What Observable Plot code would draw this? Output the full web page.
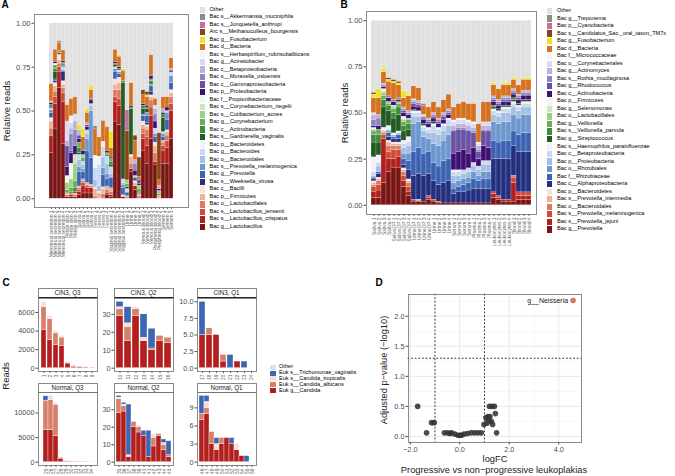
<!DOCTYPE html>
<html><head><meta charset="utf-8">
<script src="https://cdn.jsdelivr.net/npm/d3@7"></script>
<script src="https://cdn.jsdelivr.net/npm/@observablehq/plot@0.6"></script>
<style>
body{margin:0;background:#fff;}
#fig{position:relative;width:675px;height:476px;overflow:hidden;font-family:"Liberation Sans",Arial,sans-serif;background:#fff;}
</style></head>
<body><div id="fig"></div>
<script>
// ---------- shared palette (bottom -> top of stack) ----------
const palette = ["#7a1515","#b21f1f","#cf4b38","#dc7b60","#ebb29b","#f8e2d8","#24307f","#3c63b1","#6f97cf","#a3bfe2","#cad9ef","#eef2fa","#245a24","#3f8b3b","#6aae56","#9fce86","#cde6bf","#eff7e9","#3f0f72","#6a51a3","#8e85c0","#b8b3d9","#dcdaee","#f4f3fa","#d5711f","#efe41c","#8b4513","#cc6aa0","#8c8c8c"];
const otherColor = "#e0e0e0";

// ---------- Panel A ----------
const samplesA = ["Menstrual secretion 1","Menstrual secretion 2","Menstrual secretion 3","Menstrual secretion 4","Penile skin 1","Penile skin 2","Penile skin 3","Saliva 1","Saliva 2","Saliva 3","Saliva 4","Feces 1","Feces 2","Feces 3","Feces 4","Vaginal secretion 1","Vaginal secretion 2","Vaginal secretion 3","Vaginal secretion 4","Urine 1","Urine 2","Urine 3","Urine 4","Venous blood 1","Venous blood 2","Venous blood 3","Peripheral blood 1","Peripheral blood 2","Semen 1","Semen 2","Semen 3"];
const taxaA = ["Bac g__Lactobacillus","Bac s__Lactobacillus_crispatus","Bac s__Lactobacillus_jensenii","Bac o__Lactobacillales","Bac p__Firmicutes","Bac c__Bacilli","Bac s__Weeksella_virosa","Bac g__Prevotella","Bac s__Prevotella_melaninogenica","Bac o__Bacteroidales","Bac g__Bacteroides","Bac p__Bacteroidetes","Bac s__Gardnerella_vaginalis","Bac c__Actinobacteria","Bac g__Corynebacterium","Bac s__Cutibacterium_acnes","Bac s__Corynebacterium_riegelii","Bac f__Propionibacteriaceae","Bac p__Proteobacteria","Bac c__Gammaproteobacteria","Bac s__Moraxella_osloensis","Bac c__Betaproteobacteria","Bac g__Acinetobacter","Bac s__Herbaspirillum_rubrisubalbicans","Bac d__Bacteria","Bac g__Fusobacterium","Arc s__Methanoculleus_bourgensis","Bac s__Jonquetella_anthropi","Bac s__Akkermansia_muciniphila"];
const A_Lg = [.26,.40,.63,.31,.01,.01,.01,.02,.03,.03,.03,.005,0,.005,.02,.01,.44,.42,.01,.005,.15,.05,.005,.27,.20,.34,.19,0,.20,.20,.34];
const A_Lc = [.095,.14,.09,.24,0,.01,0,.02,.04,.03,.03,0,0,0,.01,.01,.11,.11,0,0,.02,.02,0,.07,.10,.13,.02,0,.07,.09,.16];
const A_Lj = [0,.04,.03,.05,0,0,0,.01,.02,.01,0,0,0,0,0,0,.03,.04,0,0,0,0,0,.03,.05,.05,0,0,.03,.04,.04];
const A_Lo = [.045,.03,.02,.03,.01,.01,.01,.01,.01,.01,.01,.01,0,.02,.02,.02,.04,.05,0,0,.03,0,.01,.03,.04,.04,.05,.005,.02,.03,.04];
const A_Fi = [.04,.03,.02,.02,.01,0,.01,.01,.01,.01,.01,.04,.03,.03,.02,.02,.03,.04,0,.01,.04,.02,.01,.02,.02,.02,.04,.01,.01,.02,.02];
const A_Ba = [.02,.02,.03,.02,0,0,0,0,0,0,0,.01,.01,.01,0,0,.03,.03,.01,0,.01,.01,0,.02,.01,.01,.02,0,0,.01,.02];
const A_We = [0,.01,0,.05,0,0,0,0,0,0,0,0,0,0,0,0,0,0,0,0,0,0,0,0,.01,.02,0,0,0,0,0];
const A_Pr = [.03,.01,.01,.01,0,0,0,.08,.04,.18,.15,0,0,.07,.04,.06,.04,.02,.04,.02,0,.02,0,.03,.04,.03,.03,0,.02,.06,.04];
const A_Pm = [.015,0,0,0,0,0,0,.03,.02,.07,.27,0,0,.04,.03,0,.02,.01,.02,0,0,0,0,.01,.02,.01,.02,0,.02,.04,.04];
const A_Bo = [0,0,0,0,0,0,0,.04,.02,.03,.03,.04,.03,.06,.06,.02,0,0,.01,0,0,0,0,0,0,0,0,0,0,0,0];
const A_Bg = [.01,0,0,.02,0,0,0,.03,.02,.02,.01,.07,.12,.06,.04,.04,.01,.01,.02,.02,0,.01,0,0,0,0,.03,0,.01,.01,.02];
const A_Bp = [0,0,0,0,0,0,0,0,0,0,0,.04,.04,.02,0,0,0,0,0,0,0,0,0,0,0,0,0,0,0,0,0];
const A_Ga = [.01,.04,0,.005,0,0,.01,.01,0,0,0,0,0,0,0,.01,.01,0,.55,.01,.26,0,0,.03,.02,0,0,0,.08,0,0];
const A_Ac = [.01,.02,0,.01,0,.01,.02,.03,0,0,0,0,0,0,.01,.02,.01,.01,.01,0,.01,0,.01,.02,.01,.02,0,0,.02,0,0];
const A_Co = [0,.02,.01,.01,.02,.02,.04,.03,.02,0,0,0,0,0,.01,.02,0,0,0,.02,0,0,.02,0,0,.01,0,.01,0,0,0];
const A_Cu = [0,0,0,0,.04,.05,.10,0,.02,0,0,0,0,0,0,0,0,0,0,.02,0,0,.02,0,0,0,0,.02,0,0,0];
const A_Cr = [0,0,0,0,0,0,.05,0,0,0,0,0,0,0,0,0,0,0,0,0,0,0,0,0,0,0,0,0,0,0,0];
const A_Pf = [0,.01,0,0,.04,.09,0,0,0,0,0,0,0,0,0,0,0,0,0,0,0,0,0,0,0,0,0,0,0,0,0];
const A_Pp = [.01,.01,0,.01,.05,.06,.05,.02,.02,.02,.02,0,0,0,.01,.01,.01,.01,0,0,.01,.03,.01,.01,.01,.02,.04,.01,.01,.02,.01];
const A_Gm = [0,0,0,0,.12,.01,0,.02,.01,.01,.01,0,0,0,0,0,0,0,0,0,0,0,.02,0,0,0,0,0,0,0,0];
const A_Mo = [0,0,0,0,0,.10,.09,0,0,0,0,0,0,0,0,0,0,0,0,0,0,.04,0,0,0,0,.04,0,0,0,0];
const A_Be = [.01,0,0,0,.03,.03,.05,.03,0,.01,0,0,0,0,0,0,0,0,0,0,0,.02,0,0,0,0,.03,.02,.02,0,.01];
const A_Ai = [0,0,0,0,.11,.03,.04,0,0,0,0,0,0,0,0,0,0,0,0,0,0,0,0,0,0,0,.02,0,0,0,0];
const A_He = [0,0,0,0,0,.04,0,0,0,0,0,.03,.01,.01,0,0,0,0,0,0,0,0,0,0,0,0,0,0,0,0,0];
const A_Bd = [.10,.07,.05,.06,.095,.10,.10,0,.07,.06,.05,.15,.11,.12,.14,.05,.07,.06,.06,0,.13,.11,.02,.05,.05,.12,.04,.03,.07,.06,.06];
const A_Fu = [0,0,0,0,0,0,0,.03,.045,.02,.025,0,0,0,0,.09,0,.01,.01,0,0,0,0,0,.01,0,0,0,0,0,0];
const A_Me = [0,0,0,0,0,0,0,0,0,0,0,0,0,0,0,0,0,0,0,.28,0,.03,.11,.03,.02,0,0,.27,0,0,0];
const A_Jo = [0,0,0,0,0,0,0,0,0,0,0,0,0,0,0,0,0,0,0,.12,0,0,0,0,0,0,0,0,0,0,0];
const A_Ak = [0,0,.01,0,0,0,0,0,0,0,0,.02,0,0,0,0,0,0,0,0,0,0,0,0,0,0,0,0,0,0,0];
const seriesA = [A_Lg,A_Lc,A_Lj,A_Lo,A_Fi,A_Ba,A_We,A_Pr,A_Pm,A_Bo,A_Bg,A_Bp,A_Ga,A_Ac,A_Co,A_Cu,A_Cr,A_Pf,A_Pp,A_Gm,A_Mo,A_Be,A_Ai,A_He,A_Bd,A_Fu,A_Me,A_Jo,A_Ak];

// ---------- Panel B ----------
const samplesB = ["Saliva 1","Saliva 2","Saliva 3","Saliva 4","SalivaDP 1","SalivaDP 2","SalivaDP 3","SalivaDP 4","UrineDP 1","UrineDP 2","UrineDP 3","UrineDP 4","Urine 1","Urine 2","Urine 3","Urine 4","Serum 1","Serum 2","Serum 3","Serum 4","Plasma 1","Plasma 2","Plasma 3","Plasma 4","Leukocytes 1","Leukocytes 2","Leukocytes 3","Leukocytes 4","Blood 1","Blood 2","Blood 3","Blood 4"];
const taxaB = ["Bac g__Prevotella","Bac s__Prevotella_jejuni","Bac s__Prevotella_melaninogenica","Bac o__Bacteroidales","Bac s__Prevotella_intermedia","Bac p__Bacteroidetes","Bac c__Alphaproteobacteria","Bac f__Rhizobiaceae","Bac o__Rhizobiales","Bac p__Proteobacteria","Bac c__Betaproteobacteria","Bac s__Haemophilus_parainfluenzae","Bac g__Streptococcus","Bac s__Veillonella_parvula","Bac g__Veillonella","Bac o__Lactobacillales","Bac g__Selenomonas","Bac p__Firmicutes","Bac c__Actinobacteria","Bac g__Rhodococcus","Bac s__Rothia_mucilaginosa","Bac g__Actinomyces","Bac o__Corynebacteriales","Bac f__Micrococcaceae","Bac d__Bacteria","Bac g__Fusobacterium","Bac s__Candidatus_Sac._oral_taxon_TM7x","Bac p__Cyanobacteria","Bac g__Treponema"];
const B_Pg = [.04,.04,.12,.18,.20,.20,.10,.05,.02,.02,.02,.03,.02,.01,.01,.01,.01,.01,.01,.01,.01,.01,.01,.01,.04,.03,.02,.02,.02,.03,.03,.03];
const B_Pj = [.03,.04,.24,.07,.05,.06,.03,.02,0,0,0,.01,0,0,0,0,0,0,0,0,0,0,0,0,.02,.01,.01,.01,.10,.02,.02,.02];
const B_Pm = [.03,.03,.02,.04,.05,.04,.03,.03,.01,.005,0,.01,.01,.01,0,0,0,0,0,0,0,0,0,0,.01,.01,0,0,.03,.02,.02,.02];
const B_Bo = [.01,.02,.01,.03,.02,.02,.02,.02,0,0,0,0,0,0,0,0,0,0,0,0,0,0,0,0,0,0,0,0,.01,0,0,0];
const B_Pi = [.01,.01,.01,.02,.01,.01,.01,.01,0,0,0,0,0,0,0,0,0,0,0,0,0,0,0,0,0,0,0,0,0,0,0,0];
const B_Bp = [.01,.01,.01,.01,.01,.01,.01,.01,0,.005,0,0,0,0,0,0,0,0,0,0,0,0,0,0,0,0,0,0,0,0,0,0];
const B_Al = [.01,.02,0,.02,.02,.02,.02,.05,.13,.14,.14,.12,.10,.09,.11,.12,.05,.06,.06,.07,.08,.08,.08,.08,.18,.20,.22,.22,.16,.22,.22,.22];
const B_Rf = [.01,.01,0,.02,.01,.02,.03,.05,.13,.14,.12,.12,.10,.10,.12,.12,.03,.03,.04,.04,.05,.04,.05,.05,.10,.09,.10,.10,.08,.09,.10,.10];
const B_Ro = [0,0,0,.01,0,0,.03,.04,.15,.14,.09,.07,.10,.11,.11,.13,.03,.03,.03,.03,.04,.03,.04,.04,.10,.10,.10,.10,.09,.09,.10,.10];
const B_Pp = [.01,.03,0,.01,.01,.01,.03,.04,.04,.03,.03,.03,.06,.06,.05,.05,.04,.03,.03,.03,.03,.03,.04,.04,.04,.04,.05,.05,.04,.04,.04,.04];
const B_Be = [.02,.02,0,0,0,0,.02,.02,.02,.02,.02,.02,.04,.03,.03,.03,.02,.02,.02,.02,.02,.02,.02,.02,.02,.02,.02,.02,.02,.02,.02,.02];
const B_Ha = [.08,.04,.01,.02,.01,.01,.02,.03,.01,.01,.01,.01,.01,.01,.01,.01,.01,.01,0,0,0,0,0,0,.01,.01,.01,.01,.01,.01,.01,.01];
const B_St = [.08,.07,.11,.08,.08,.09,.05,.04,.005,0,.01,0,.01,0,0,0,0,0,0,0,0,0,0,0,.01,.01,.01,.01,.01,.01,.01,.01];
const B_Vp = [.04,.04,.04,.03,.03,.04,.03,.03,0,0,0,0,0,0,0,0,0,0,0,0,0,0,0,0,.01,0,0,0,.01,0,0,0];
const B_Ve = [.02,.03,.02,.01,.02,.02,.02,.02,0,0,0,0,0,0,0,0,0,0,0,0,0,0,0,0,0,0,0,0,0,0,0,0];
const B_Lo = [.01,0,.02,.01,.01,.01,.01,.01,0,0,0,0,0,0,0,0,0,0,0,0,0,0,0,0,0,0,0,0,0,0,0,0];
const B_Se = [0,0,.01,0,.01,0,.01,0,0,0,0,0,0,0,0,0,0,0,0,0,0,0,0,0,0,0,0,0,0,0,0,0];
const B_Fi = [.01,0,.01,0,0,0,.01,0,0,0,0,0,0,0,0,0,0,0,0,0,0,0,0,0,0,0,0,0,0,0,0,0];
const B_Ac = [.01,.02,.01,.02,.02,.01,.02,.02,.02,.02,.02,.02,.02,.02,.02,.02,.09,.10,.11,.08,.08,.04,.08,.07,.02,.02,.02,.02,.02,.02,.02,.02];
const B_Rh = [0,0,0,0,0,0,.01,0,.015,.015,.01,.01,.01,.01,.02,.01,.12,.12,.11,.12,.08,.04,.08,.09,.01,.01,.01,.01,.01,.01,.01,.01];
const B_Rm = [.03,.04,.01,.01,.01,.01,.01,.01,.01,.01,.01,.01,.01,.01,.01,.01,.01,.01,.01,.01,.01,.01,.01,.01,.01,.01,.01,.01,.01,.01,.01,.01];
const B_Am = [.03,.02,.01,0,0,0,.01,.01,.01,.01,.005,.01,.01,.01,.01,.01,.02,.02,.02,.02,.02,.02,.02,.02,.01,.01,.01,.01,.01,.01,.01,.01];
const B_Cb = [.01,0,0,0,0,0,0,0,.005,0,.005,0,0,0,0,0,.02,.02,.02,.02,.02,.01,.02,.02,0,0,0,0,0,0,0,0];
const B_Mc = [0,0,0,0,0,0,0,0,0,0,0,0,0,0,0,0,.01,.01,.01,.01,.01,.01,0,0,0,0,0,0,0,0,0,0];
const B_Bd = [.08,.09,.06,.08,.09,.07,.05,.08,.07,.07,.05,.06,.06,.06,.07,.08,.07,.08,.09,.09,.10,.10,.11,.11,.06,.06,.06,.06,.05,.05,.06,.06];
const B_Fu = [.02,.05,.02,.01,.01,.01,.04,.01,0,0,0,0,0,0,0,0,0,0,0,0,0,0,0,0,.01,0,.01,.01,.01,0,.01,.01];
const B_Tm = [.01,0,0,.01,.01,.01,0,0,0,0,0,0,0,0,0,0,0,0,0,0,0,0,0,0,0,0,0,0,0,0,0,0];
const B_Cy = [0,0,0,0,0,0,0,0,0,0,.01,0,0,0,0,0,0,0,0,0,0,0,0,0,0,0,0,0,0,0,0,0];
const B_Tr = [0,0,0,0,0,0,0,0,0,0,0,0,0,0,0,0,0,0,0,0,0,0,0,0,0,0,0,0,0,0,0,0];
const seriesB = [B_Pg,B_Pj,B_Pm,B_Bo,B_Pi,B_Bp,B_Al,B_Rf,B_Ro,B_Pp,B_Be,B_Ha,B_St,B_Vp,B_Ve,B_Lo,B_Se,B_Fi,B_Ac,B_Rh,B_Rm,B_Am,B_Cb,B_Mc,B_Bd,B_Fu,B_Tm,B_Cy,B_Tr];

// ---------- Panel C ----------
const taxaC = ["Euk g__Candida","Euk s__Candida_albicans","Euk s__Candida_tropicalis","Euk s__Trichomonas_vaginalis","Other"];
const colorsC = ["#b31e1e","#d4806a","#f6dfd4","#3e66b3","#e0e0e0"];
const C1_samples = ["1","2","3","4","5","6","7","8","9"];
const C1_cand = [4150,3050,2500,2400,500,150,120,70,40];
const C1_alb  = [2450,2250,1250,900,100,100,30,30,10];
const C1_trop = [550,300,250,200,50,50,0,0,0];
const C1_tri  = [0,0,0,0,0,0,0,0,0];
const C2_samples = ["10","11","12","13","14","15","16"];
const C2_cand = [29,15,29,15,10,15,14];
const C2_alb  = [4,8,4,0,1,3,3];
const C2_trop = [1,2,1,2,0,0,0];
const C2_tri  = [3,9,0,13,11,0,0];
const C3_samples = ["17","18","19","20","21","22","23","24"];
const C3_cand = [5,5,5,1,0,1,0,0];
const C3_alb  = [0,1,0,1,0,0,0,0];
const C3_trop = [0,0,0,0,0,0,0,0];
const C3_tri  = [5,0,0,0,2,0,1,0];
const C4_samples = ["25","26","27","28","29","30","31","32","33","34"];
const C4_cand = [6600,6500,5300,700,100,100,50,50,30,20];
const C4_alb  = [5900,6100,6400,200,100,50,0,0,0,0];
const C4_trop = [0,900,300,0,0,0,0,0,0,0];
const C4_tri  = [900,0,0,0,0,0,0,0,0,0];
const C5_samples = ["35","36","37","38","39","40","41","42","43","44","45"];
const C5_cand = [28,29,3,20,17,15,3,9,15,7,3];
const C5_alb  = [8,3,0,3,3,0,0,5,1,3,1];
const C5_trop = [1,1,1,0,1,0,0,2,0,1,0];
const C5_tri  = [1,1,29,0,0,3,15,0,0,2,8];
const C6_samples = ["46","47","48","49","50","51","52","53","54","55","56"];
const C6_cand = [7,8,3,2,3,4,3,2,1,0,0];
const C6_alb  = [1,1,2,0,1,0,0,0,0,0,0];
const C6_trop = [0,1,0,1,0,0,0,1,0,0,0];
const C6_tri  = [3,1,0,1,0,0,1,0,0,1,0];

// ---------- Panel D ----------
const dLogFC = [-1.70,-1.34,-1.14,-1.03,-0.62,-0.49,-0.40,-0.33,-0.20,-0.07,0.00,0.07,0.17,0.31,0.46,0.60,0.74,0.87,0.98,1.06,1.14,1.22,1.20,1.30,1.40,1.28,1.33,1.44,1.49,1.17,1.10];
const dP     = [0.50,0.06,0.23,0.23,0.06,0.06,0.05,0.06,0.04,0.02,0.02,0.02,0.04,0.05,0.06,0.06,0.06,0.06,0.20,0.31,0.33,0.33,0.50,0.50,0.50,0.25,0.20,0.38,0.06,0.27,0.22];
const sigName = ["g__Neisseria"], sigLogFC = [4.58], sigP = [2.26];

// ---------- helpers ----------
const fig = document.getElementById("fig");
const FONT = "Liberation Sans, Arial, sans-serif";
function put(node, x, y){ node.style.position="absolute"; node.style.left=x+"px"; node.style.top=y+"px"; fig.appendChild(node); return node; }
function text(str, cx, cy, {size=9, rotate=0, weight="normal", color="#000", anchor="middle"}={}) {
  const d=document.createElement("div"); d.textContent=str;
  const tx = anchor==="start" ? "0" : "-50%";
  d.style.cssText=`position:absolute;left:${cx}px;top:${cy}px;font-size:${size}px;font-weight:${weight};color:${color};white-space:nowrap;line-height:1;transform:translate(${tx},-50%) rotate(${rotate}deg);`;
  fig.appendChild(d); return d;
}
function legend(labels, colors, x, y0, step, tx, size, sw=5, sh=6.3){
  labels.forEach((l,i)=>{
    const cy=y0+i*step;
    const s=document.createElement("div");
    s.style.cssText=`position:absolute;left:${x}px;top:${cy-sh/2}px;width:${sw}px;height:${sh}px;background:${colors[i]};`;
    fig.appendChild(s);
    text(l, tx, cy, {size, anchor:"start"});
  });
}
function stackPanel(samples, taxa, series, left, top, width, height, mL, mR, mT, mB){
  const rows=[];
  samples.forEach((s,i)=>{ let sum=0;
    taxa.forEach((t,k)=>{ const v=series[k][i]; if(v>0){rows.push({sample:s,taxon:t,value:v}); sum+=v;} });
    rows.push({sample:s,taxon:"Other",value:Math.max(0,1-sum)});
  });
  const order=[...taxa,"Other"];
  const p = Plot.plot({width,height,marginLeft:mL,marginRight:mR,marginTop:mT,marginBottom:mB,
    style:{fontFamily:FONT,background:"transparent",overflow:"visible"},
    x:{domain:samples,padding:0.1},
    y:{domain:[-0.05,1.05]},
    color:{domain:order,range:[...palette,otherColor]},
    marks:[
      Plot.barY(rows,{x:"sample",y:"value",fill:"taxon",order,stroke:"#fff",strokeWidth:0.2}),
      Plot.frame({stroke:"#7f7f7f",strokeWidth:0.9}),
      Plot.axisY({ticks:[0,.25,.5,.75,1],tickFormat:".2f",tickSize:2.5,tickPadding:1.5,fontSize:7.5,color:"#4d4d4d",label:null}),
      Plot.axisX({tickRotate:-90,fontSize:4.9,tickSize:2,tickPadding:1,color:"#666",label:null})
    ]});
  put(p,left,top);
}

// ---------- draw A ----------
stackPanel(samplesA,taxaA,seriesA,0,0,190,262,34,2,14,55);
text("A",5,5,{size:10,weight:"bold"});
text("Relative reads",7,111,{size:9.5,rotate:-90,color:"#222"});
legend(["Other",...[...taxaA].reverse()],[otherColor,...[...palette].reverse()],199.5,9.7,7.49,209.5,5.6);

// ---------- draw B ----------
stackPanel(samplesB,taxaB,seriesB,340,0,198,262,26,2,11,48);
text("B",344,5,{size:10,weight:"bold"});
text("Relative reads",345,113,{size:9.5,rotate:-90,color:"#222"});
legend(["Other",...[...taxaB].reverse()],[otherColor,...[...palette].reverse()],547,11,7.53,557,5.6);

// ---------- draw C ----------
text("C",6,283,{size:10,weight:"bold"});
text("Reads",6,376,{size:9.5,rotate:-90,color:"#222"});
function facet(name, samples, series, ticks, fmt, x, yStrip){
  const W=59, H=73;
  const strip=document.createElement("div");
  strip.style.cssText=`position:absolute;left:${x}px;top:${yStrip}px;width:${W-1}px;height:8px;border:0.6px solid #888;border-bottom:1.4px solid #222;background:#fff;`;
  fig.appendChild(strip);
  text(name, x+W/2, yStrip+5, {size:6.3, color:"#1a1a1a"});
  const rows=[];
  samples.forEach((s,i)=> taxaC.forEach((t,k)=>{ if(k<series.length){ const v=series[k][i]; if(v>0) rows.push({sample:s,taxon:t,value:v}); } }));
  const totals=samples.map((s,i)=>d3.sum(series,ser=>ser[i]));
  const mx=d3.max(totals);
  const mL=30;
  const p=Plot.plot({width:mL+W+1,height:H+16,marginLeft:mL,marginRight:1,marginTop:0,marginBottom:16,
    style:{fontFamily:FONT,background:"transparent",overflow:"visible"},
    x:{domain:samples,padding:0.1},
    y:{domain:[-0.05*mx,1.05*mx]},
    color:{domain:taxaC,range:colorsC},
    marks:[
      Plot.barY(rows,{x:"sample",y:"value",fill:"taxon",order:taxaC,stroke:"#fff",strokeWidth:0.35}),
      Plot.frame({stroke:"#7f7f7f",strokeWidth:0.9}),
      Plot.axisY({ticks,tickFormat:fmt,tickSize:2.5,tickPadding:1.5,fontSize:7.3,color:"#4d4d4d",label:null}),
      Plot.axisX({tickRotate:-90,fontSize:4.9,tickSize:2,tickPadding:1,color:"#666",label:null})
    ]});
  put(p,x-mL,yStrip+9.5);
}
facet("CIN3, Q3",C1_samples,[C1_cand,C1_alb,C1_trop,C1_tri],[0,2000,4000,6000],"d",38,288);
facet("CIN3, Q2",C2_samples,[C2_cand,C2_alb,C2_trop,C2_tri],[0,10,20,30],"d",114,288);
facet("CIN3, Q1",C3_samples,[C3_cand,C3_alb,C3_trop,C3_tri],[0,2.5,5,7.5,10],".1f",197,288);
facet("Normal, Q3",C4_samples,[C4_cand,C4_alb,C4_trop,C4_tri],[0,5000,10000],"d",38,382.5);
facet("Normal, Q2",C5_samples,[C5_cand,C5_alb,C5_trop,C5_tri],[0,10,20,30],"d",114,382.5);
facet("Normal, Q1",C6_samples,[C6_cand,C6_alb,C6_trop,C6_tri],[0,3,6,9],"d",197,382.5);
legend([...taxaC].reverse(),[...colorsC].reverse(),270,367.3,5.8,279,5.6,5.5,5.2);

// ---------- draw D ----------
text("D",379,283,{size:10,weight:"bold"});
const ptsD = dLogFC.map((x,i)=>({logFC:x,p:dP[i]}));
const sigD = sigName.map((n,i)=>({name:n,logFC:sigLogFC[i],p:sigP[i]}));
const pd = Plot.plot({width:214,height:172,marginLeft:38,marginRight:3,marginTop:9,marginBottom:15,
  style:{fontFamily:FONT,background:"transparent",overflow:"visible"},
  x:{domain:[-2.07,4.92]}, y:{domain:[-0.1,2.36]},
  marks:[
    Plot.ruleX([-1,1,3],{stroke:"#f2f2f2",strokeWidth:0.6}),
    Plot.ruleY([0.25,0.75,1.25,1.75,2.25],{stroke:"#f2f2f2",strokeWidth:0.6}),
    Plot.ruleX([-2,0,2,4],{stroke:"#e4e4e4",strokeWidth:0.9}),
    Plot.ruleY([0,0.5,1,1.5,2],{stroke:"#e4e4e4",strokeWidth:0.9}),
    Plot.ruleX([-1,1],{stroke:"#333",strokeDasharray:"1,2.6",strokeWidth:1,strokeLinecap:"round"}),
    Plot.ruleY([1.3],{stroke:"#333",strokeDasharray:"1,2.6",strokeWidth:1,strokeLinecap:"round"}),
    Plot.dot(ptsD,{x:"logFC",y:"p",r:2.8,fill:"#333",fillOpacity:0.88}),
    Plot.dot(sigD,{x:"logFC",y:"p",r:2.8,fill:"#d9775e"}),
    Plot.text(sigD,{x:"logFC",y:"p",text:"name",textAnchor:"end",dx:-5,fontSize:7,fill:"#222"}),
    Plot.frame({stroke:"#7f7f7f",strokeWidth:0.9}),
    Plot.axisX({ticks:[-2,0,2,4],tickSize:2.5,tickPadding:1.5,fontSize:7.3,color:"#4d4d4d",label:null}),
    Plot.axisY({ticks:[0,0.5,1,1.5,2],tickFormat:".1f",tickSize:2.5,tickPadding:1.5,fontSize:7.3,color:"#4d4d4d",label:null})
  ]});
put(pd,370,285);
text("logFC",495,460,{size:9.3,color:"#222"});
text("Progressive vs non\u2212progressive leukoplakias",494,471,{size:9.3,color:"#222"});
text("Adjusted p\u2212value (\u2212log10)",385,370,{size:9.3,rotate:-90,color:"#222"});
</script>
</body></html>
